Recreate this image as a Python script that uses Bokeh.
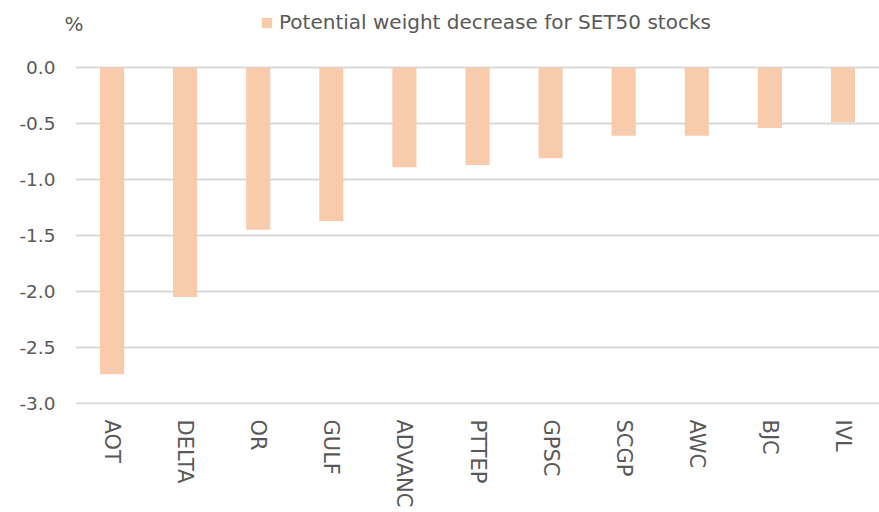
import math
from bokeh.plotting import figure
from bokeh.layouts import column
from bokeh.models import (Range1d, FixedTicker, NumeralTickFormatter, Label,
                          Legend, LegendItem, ColumnDataSource)
from bokeh.embed import file_html
from bokeh.resources import INLINE

stocks = ["AOT", "DELTA", "OR", "GULF", "ADVANC", "PTTEP", "GPSC", "SCGP", "AWC", "BJC", "IVL"]
weight_change = [-2.74, -2.05, -1.45, -1.37, -0.89, -0.87, -0.81, -0.61, -0.61, -0.54, -0.49]
y_ticks = [0.0, -0.5, -1.0, -1.5, -2.0, -2.5, -3.0]
series_name = "Potential weight decrease for SET50 stocks"
unit_label = "%"

FONT = "DejaVu Sans"
TXT = "#595959"
BAR = "#F8CBAD"

HEAD_H = 44

# ---- header strip: unit label and legend ----
head = figure(width=879, height=HEAD_H, x_range=Range1d(0, 879), y_range=Range1d(0, HEAD_H),
              x_axis_type=None, y_axis_type=None,
              min_border_left=0, min_border_right=0, min_border_top=0, min_border_bottom=0,
              output_backend="svg", toolbar_location=None)
head.frame_align = False
head.outline_line_color = None
head.xgrid.visible = False
head.ygrid.visible = False
# zero-size bar: only carries the legend swatch style
key_r = head.vbar(x=[0], top=[0], bottom=[0], width=0, fill_color=BAR, line_color=None)
head.add_layout(Label(x=64, y=HEAD_H - 23, text=unit_label,
                      text_font=FONT, text_font_size="20px", text_color=TXT,
                      text_align="left", text_baseline="middle"))
legend = Legend(items=[LegendItem(label=series_name, renderers=[key_r])],
                location=(260, HEAD_H - 34), orientation="horizontal",
                padding=0, margin=0, spacing=0,
                glyph_width=13, glyph_height=13, label_standoff=6,
                label_text_font=FONT, label_text_font_size="20px",
                label_text_color=TXT, background_fill_alpha=0,
                border_line_color=None)
head.add_layout(legend, "center")

# ---- main chart ----
src = ColumnDataSource(dict(x=stocks, top=[0.0] * len(stocks), bottom=weight_change))

p = figure(x_range=stocks, y_range=Range1d(-3.01, 0.2055),
           frame_width=804, frame_height=360,
           min_border_left=75, min_border_right=0, min_border_top=0, min_border_bottom=108,
           output_backend="svg", toolbar_location=None)
p.frame_align = False
p.outline_line_color = None
p.background_fill_color = "white"
p.border_fill_color = "white"

p.vbar(x="x", top="top", bottom="bottom", width=0.33, source=src,
       fill_color=BAR, line_color=None)

# y axis
p.yaxis.ticker = FixedTicker(ticks=y_ticks)
p.yaxis.formatter = NumeralTickFormatter(format="0.0")
p.yaxis.axis_line_color = None
p.yaxis.major_tick_line_color = None
p.yaxis.minor_tick_line_color = None
p.yaxis.major_tick_out = 0
p.yaxis.minor_tick_out = 0
p.yaxis.major_label_standoff = 20
p.yaxis.major_label_text_font = FONT
p.yaxis.major_label_text_font_size = "18.5px"
p.yaxis.major_label_text_color = TXT

# x axis
p.xaxis.axis_line_color = None
p.xaxis.major_tick_line_color = None
p.xaxis.minor_tick_line_color = None
p.xaxis.major_tick_out = 0
p.xaxis.minor_tick_out = 0
p.xaxis.major_label_orientation = -math.pi / 2
p.xaxis.major_label_standoff = 15
p.xaxis.major_label_text_font = FONT
p.xaxis.major_label_text_font_size = "21px"
p.xaxis.major_label_text_color = TXT

# grid
p.xgrid.grid_line_color = None
p.ygrid.ticker = FixedTicker(ticks=y_ticks)
p.ygrid.grid_line_color = "#D9D9D9"
p.ygrid.grid_line_width = 2

layout = column(head, p, spacing=0)
open("out.html", "w").write(file_html(layout, INLINE))
